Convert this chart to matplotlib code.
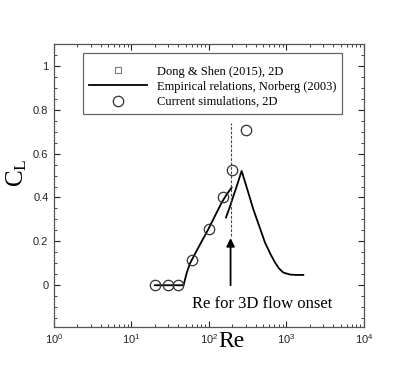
import numpy as np
import matplotlib
matplotlib.use("Agg")
import matplotlib.pyplot as plt

plt.rcParams['font.family'] = ['Liberation Sans', 'DejaVu Sans']

# current 2D simulations
re_sim = [20, 30, 40, 60, 100, 150, 200, 300]
cl_sim = [0.0, 0.0, 0.0, 0.113, 0.255, 0.40, 0.525, 0.706]

# Norberg (2003) empirical relation, lower branch (laminar)
re_emp1 = [20, 47, 49, 52, 57, 70, 98, 120, 146, 170, 196]
cl_emp1 = [0.0, 0.0, 0.025, 0.06, 0.10, 0.16, 0.255, 0.317, 0.377, 0.415, 0.445]

# upper branch
re_emp2 = [166, 185, 206, 230, 264, 320, 373, 450, 528, 620, 711, 800, 910, 1100, 1300, 1650]
cl_emp2 = [0.309, 0.355, 0.405, 0.455, 0.521, 0.425, 0.347, 0.265, 0.195, 0.143, 0.104, 0.077, 0.058, 0.049, 0.047, 0.047]

# Dong & Shen (2015) - legend entry only, no points visible
re_dong = []
cl_dong = []

re_onset = 190

fig = plt.figure(figsize=(4.15, 3.69), dpi=100)
ax = fig.add_axes([0.130, 0.114, 0.747, 0.767])

ax.plot(re_dong, cl_dong, linestyle='none', marker='s', ms=4.5, mfc='none',
        mec='#777777', mew=0.8, label='Dong & Shen (2015), 2D')
ax.plot(re_emp1, cl_emp1, color='black', lw=1.3,
        label='Empirical relations, Norberg (2003)')
ax.plot(re_emp2, cl_emp2, color='black', lw=1.3)
ax.plot(re_sim, cl_sim, linestyle='none', marker='o', ms=7.5, mfc='none',
        mec='#333333', mew=0.9, label='Current simulations, 2D')

# 3D onset marker
ax.plot([re_onset, re_onset], [0.225, 0.74], color='#444444', lw=0.8, ls=(0, (2.5, 1.5)))
ax.annotate('', xy=(re_onset, 0.215), xytext=(re_onset, 0.0),
            arrowprops=dict(arrowstyle='-|>', color='black', lw=1.3,
                            mutation_scale=12, shrinkA=0, shrinkB=0))
ax.text(480, -0.085, 'Re for 3D flow onset', family='Liberation Serif',
        fontsize=12, ha='center', va='center')

ax.set_xscale('log')
ax.set_xlim(1, 1e4)
ax.set_ylim(-0.19, 1.1)
ax.set_yticks([0, 0.2, 0.4, 0.6, 0.8, 1.0])
ax.set_yticklabels(['0', '0.2', '0.4', '0.6', '0.8', '1'])
ax.set_yticks(np.arange(-0.15, 1.1, 0.05), minor=True)

ax.tick_params(which='both', direction='in', top=True, right=True,
               labelsize=8, colors='#222222', pad=4)
ax.tick_params(which='major', length=4, width=0.8)
ax.tick_params(which='minor', length=2, width=0.6)
for sp in ax.spines.values():
    sp.set_color('#555555')
    sp.set_linewidth(0.9)

ax.set_xlabel('Re', family='Liberation Serif', fontsize=17)
ax.xaxis.set_label_coords(0.574, -0.015)
ax.set_ylabel(r'$\mathregular{C_L}$', family='Liberation Serif', fontsize=18)
ax.yaxis.set_label_coords(-0.08, 0.545)

leg = ax.legend(loc='upper left', bbox_to_anchor=(0.095, 0.968), fancybox=False,
                prop={'family': 'Liberation Serif', 'size': 9},
                title=' ', title_fontsize=3,
                handlelength=4.65, handletextpad=0.8, labelspacing=0.25,
                borderpad=0.45, borderaxespad=0, framealpha=1)
leg.get_frame().set_edgecolor('#666666')
leg.get_frame().set_linewidth(0.9)

fig.savefig('out.png', dpi=100)
